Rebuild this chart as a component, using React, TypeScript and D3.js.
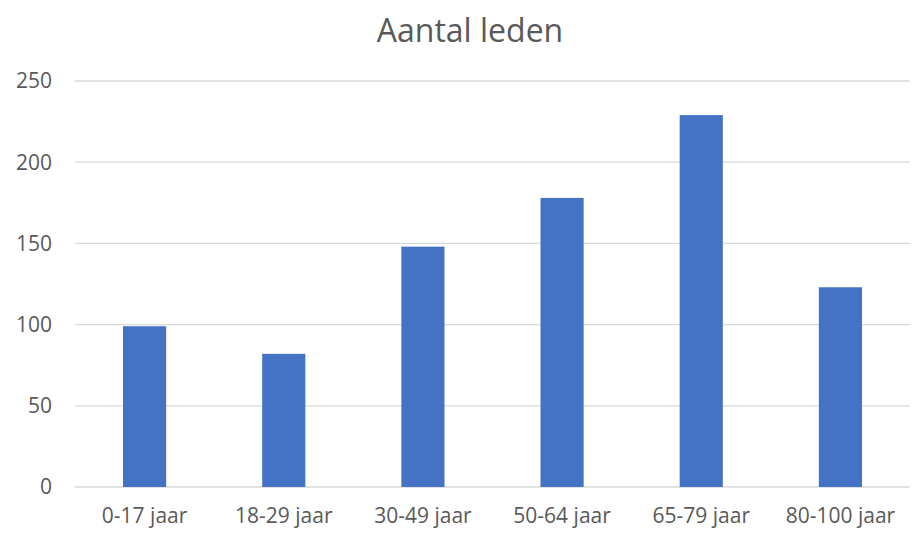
import React, { useEffect, useRef } from 'react';
import * as d3 from 'd3';

// leeftijdsgroepen en aantallen
const categories = ['0-17 jaar', '18-29 jaar', '30-49 jaar', '50-64 jaar', '65-79 jaar', '80-100 jaar'];
const values = [99, 82, 148, 178, 229, 123];
const yTicks = [0, 50, 100, 150, 200, 250];
const title = 'Aantal leden';

const App = () => {
  const svgRef = useRef<SVGSVGElement>(null);

  useEffect(() => {
    const svg = d3.select(svgRef.current);
    svg.selectAll('*').remove();

    const width = 918;
    const height = 539;
    const margin = { top: 81, right: 8, bottom: 52, left: 75 };
    const font = '"Open Sans", "Liberation Sans", sans-serif';

    svg.attr('width', width).attr('height', height);

    const x = d3.scaleBand()
      .domain(categories)
      .range([margin.left, width - margin.right])
      .paddingInner(0.69)
      .paddingOuter(0.345);

    const y = d3.scaleLinear()
      .domain([0, 250])
      .range([height - margin.bottom, margin.top]);

    // rasterlijnen
    svg.append('g')
      .selectAll('line')
      .data(yTicks)
      .enter()
      .append('line')
      .attr('x1', margin.left)
      .attr('x2', width - margin.right)
      .attr('y1', d => y(d))
      .attr('y2', d => y(d))
      .attr('stroke', '#d9d9d9')
      .attr('stroke-width', 1.3);

    // y-as labels
    svg.append('g')
      .selectAll('text')
      .data(yTicks)
      .enter()
      .append('text')
      .attr('x', 52)
      .attr('y', d => y(d))
      .attr('dy', '0.35em')
      .attr('text-anchor', 'end')
      .style('font-family', font)
      .style('font-size', '21px')
      .style('fill', '#595959')
      .text(d => d);

    // staven
    svg.append('g')
      .selectAll('rect')
      .data(values)
      .enter()
      .append('rect')
      .attr('x', (d, i) => x(categories[i]))
      .attr('width', x.bandwidth())
      .attr('y', d => y(d))
      .attr('height', d => y(0) - y(d))
      .attr('fill', '#4472c4');

    // x-as labels
    svg.append('g')
      .selectAll('text')
      .data(categories)
      .enter()
      .append('text')
      .attr('x', d => x(d) + x.bandwidth() / 2)
      .attr('y', 523)
      .attr('text-anchor', 'middle')
      .style('font-family', font)
      .style('font-size', '21px')
      .style('fill', '#595959')
      .text(d => d);

    // titel
    svg.append('text')
      .attr('x', 470)
      .attr('y', 42)
      .attr('text-anchor', 'middle')
      .style('font-family', font)
      .style('font-size', '32px')
      .style('fill', '#595959')
      .text(title);
  }, []);

  return (
    <svg ref={svgRef} style={{ position: 'absolute', left: 0, top: 0, background: '#fff' }}></svg>
  );
};

export default App;
